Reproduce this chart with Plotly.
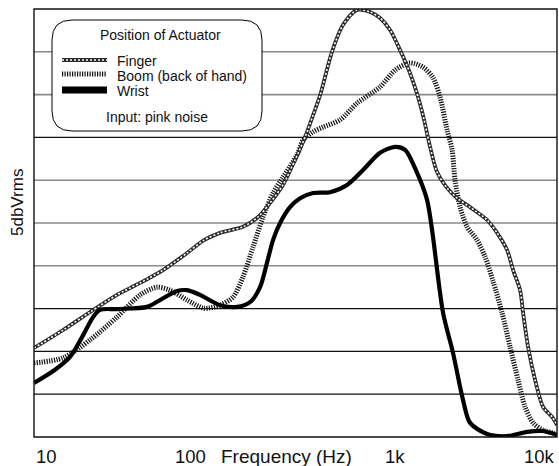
import numpy as np
import plotly.graph_objects as go

# ---------------- data ----------------
freq_finger = [10, 14.7, 21.0, 29.9, 40.6, 55.0, 75.5, 94.5, 116.7, 158, 193, 226, 268, 314, 359, 399,
               438, 512, 593, 713, 847, 966, 1103, 1259, 1436, 1597, 1728, 1870, 2052, 2342, 2672,
               3173, 3972, 4533, 5172, 5600, 6143, 6391, 6827, 7489, 8325, 9374, 10000]
level_finger = [2.08, 2.50, 2.92, 3.32, 3.60, 3.90, 4.30, 4.60, 4.77, 4.91, 5.14, 5.47, 5.89, 6.47,
                7.01, 7.52, 7.99, 9.00, 9.63, 9.98, 9.93, 9.79, 9.51, 9.04, 8.50, 7.94, 7.41, 6.78,
                6.19, 5.82, 5.58, 5.37, 5.07, 4.77, 4.37, 3.90, 3.43, 2.90, 2.10, 1.33, 0.70, 0.47, 0.28]

freq_boom = [10, 14.7, 21.0, 29.9, 40.6, 50.8, 60.3, 75.5, 94.5, 116.7, 138.6, 158, 180.5, 206, 235,
             268, 323, 350, 399, 455, 570, 713, 966, 1178, 1436, 1705, 1946, 2135, 2342, 2502, 2602,
             2781, 3050, 3480, 3867, 4299, 4842, 5382, 5982, 6561, 7294, 8325, 9498, 10000]
level_boom = [1.73, 1.85, 2.27, 2.80, 3.32, 3.50, 3.43, 3.20, 3.01, 3.08, 3.27, 3.74, 4.44, 5.14, 5.70,
              6.07, 6.59, 6.94, 7.13, 7.24, 7.41, 7.80, 8.18, 8.57, 8.74, 8.64, 8.39, 7.94, 7.17, 6.71,
              6.00, 5.37, 4.91, 4.60, 4.21, 3.64, 2.90, 2.10, 1.33, 0.70, 0.33, 0.16, 0.09, 0.05]

freq_wrist = [10, 13.2, 16.1, 18.9, 21.8, 23.9, 29.9, 44.5, 52.8, 66.1, 75.5, 89.6, 116.7, 146, 173.5,
              198, 217, 235, 258, 294, 336, 399, 499, 625, 772, 966, 1178, 1345, 1576, 1797, 1920,
              2221, 2534, 2892, 3173, 3972, 5172, 6739, 8325, 10000]
level_wrist = [1.26, 1.57, 1.87, 2.34, 2.80, 2.97, 2.99, 3.04, 3.20, 3.41, 3.43, 3.32, 3.08, 3.04, 3.15,
               3.50, 4.07, 4.60, 5.00, 5.37, 5.58, 5.70, 5.72, 5.89, 6.24, 6.64, 6.78, 6.71, 6.17, 5.54,
               4.84, 2.90, 1.96, 0.86, 0.33, 0.07, 0.02, 0.12, 0.14, 0.05]

series_names = ["Finger", "Boom (back of hand)", "Wrist"]
tick_vals = [10, 100, 1000, 10000]
tick_labels = ["10", "100", "1k", "10k"]
grid_levels = [1, 2, 3, 4, 5, 6, 7, 8, 9]
dark_levels = [1, 2, 3, 7]
x_title = "Frequency (Hz)"
y_title = "5dbVrms"
legend_title = "Position of Actuator"
legend_note = "Input: pink noise"

# ---------------- layout constants ----------------
W, H = 559, 466
ML, MR, MT, MB = 34, 2, 9, 29
PW, PH = W - ML - MR, H - MT - MB
FONT = "Liberation Sans, Arial, Helvetica, sans-serif"


def px(x):
    return (x - ML) / PW


def py(y):
    return (MT + PH - y) / PH


fig = go.Figure()

# styles
FINGER_BASE = dict(color="#2a2a2a", width=3.8)
FINGER_TOP = dict(color="white", width=1.6, dash="2px,2px")
BOOM_STYLE = dict(color="#111", width=5, dash="1.2px,1.3px")
WRIST_STYLE = dict(color="black", width=4.2)

fig.add_trace(go.Scatter(x=freq_boom, y=level_boom, mode="lines", name=series_names[1],
                         line=dict(shape="spline", smoothing=0.8, **BOOM_STYLE), hoverinfo="skip"))
fig.add_trace(go.Scatter(x=freq_finger, y=level_finger, mode="lines", name=series_names[0],
                         line=dict(shape="spline", smoothing=0.8, **FINGER_BASE), hoverinfo="skip"))
fig.add_trace(go.Scatter(x=freq_finger, y=level_finger, mode="lines", name=series_names[0],
                         line=dict(shape="spline", smoothing=0.8, **FINGER_TOP), hoverinfo="skip"))
fig.add_trace(go.Scatter(x=freq_wrist, y=level_wrist, mode="lines", name=series_names[2],
                         line=dict(shape="spline", smoothing=0.8, **WRIST_STYLE), hoverinfo="skip"))

shapes = []
# horizontal grid lines
for lv in grid_levels:
    dark = lv in dark_levels
    shapes.append(dict(type="line", xref="paper", yref="y", x0=0, x1=1, y0=lv, y1=lv, layer="below",
                       line=dict(color="#111" if dark else "#8a8a8a", width=1.3 if dark else 1.6)))
# vertical grid lines
for tv in tick_vals[1:-1]:
    shapes.append(dict(type="line", xref="x", yref="paper", x0=np.log10(tv), x1=np.log10(tv), y0=0, y1=1,
                       layer="below", line=dict(color="#111", width=1.4)))
# plot border
shapes.append(dict(type="rect", xref="paper", yref="paper", x0=0, x1=1, y0=0, y1=1, layer="above",
                   line=dict(color="#111", width=1.4)))

# legend box (rounded rectangle)
bx0, bx1, byt, byb = px(52), px(262), py(20), py(131)
rx, ry = 20 / PW, 20 / PH
path = (f"M {bx0+rx},{byt} L {bx1-rx},{byt} Q {bx1},{byt} {bx1},{byt-ry} "
        f"L {bx1},{byb+ry} Q {bx1},{byb} {bx1-rx},{byb} L {bx0+rx},{byb} Q {bx0},{byb} {bx0},{byb+ry} "
        f"L {bx0},{byt-ry} Q {bx0},{byt} {bx0+rx},{byt} Z")
shapes.append(dict(type="path", xref="paper", yref="paper", path=path, fillcolor="white",
                   line=dict(color="black", width=1), layer="above"))
# legend swatches
sx0, sx1 = px(62), px(107)
sw_y = [py(60), py(74), py(90)]
shapes.append(dict(type="line", xref="paper", yref="paper", x0=sx0, x1=sx1, y0=sw_y[0], y1=sw_y[0],
                   layer="above", line=dict(color="#2a2a2a", width=4.2)))
shapes.append(dict(type="line", xref="paper", yref="paper", x0=sx0, x1=sx1, y0=sw_y[0], y1=sw_y[0],
                   layer="above", line=dict(color="white", width=1.6, dash="2px,2px")))
shapes.append(dict(type="line", xref="paper", yref="paper", x0=sx0, x1=sx1, y0=sw_y[1], y1=sw_y[1],
                   layer="above", line=dict(color="#111", width=5, dash="1.2px,1.3px")))
shapes.append(dict(type="line", xref="paper", yref="paper", x0=sx0, x1=sx1, y0=sw_y[2], y1=sw_y[2],
                   layer="above", line=dict(color="black", width=7)))

annotations = []
LEG_FONT = dict(family=FONT, size=14, color="#111")
annotations.append(dict(text=legend_title, xref="paper", yref="paper", x=px(160), y=py(35),
                        xanchor="center", yanchor="middle", showarrow=False, font=LEG_FONT))
for name, yy in zip(series_names, [py(61), py(76), py(91)]):
    annotations.append(dict(text=name, xref="paper", yref="paper", x=px(115), y=yy,
                            xanchor="left", yanchor="middle", showarrow=False, font=LEG_FONT))
annotations.append(dict(text=legend_note, xref="paper", yref="paper", x=px(157), y=py(117),
                        xanchor="center", yanchor="middle", showarrow=False, font=LEG_FONT))

AX_FONT = dict(family=FONT, size=18.5, color="#111")
for tv, tl, anc in zip(tick_vals, tick_labels, ["left", "right", "left", "right"]):
    annotations.append(dict(text=tl, xref="x", yref="paper", x=np.log10(tv), y=py(456),
                            xanchor=anc, yanchor="middle", showarrow=False, font=AX_FONT))
annotations.append(dict(text=x_title, xref="paper", yref="paper", x=px(286), y=py(456),
                        xanchor="center", yanchor="middle", showarrow=False,
                        font=dict(family=FONT, size=19, color="#111")))
annotations.append(dict(text=y_title, xref="paper", yref="paper", x=px(17), y=py(203), textangle=-90,
                        xanchor="center", yanchor="middle", showarrow=False,
                        font=dict(family=FONT, size=17, color="#111")))

fig.update_layout(
    width=W, height=H,
    margin=dict(l=ML, r=MR, t=MT, b=MB),
    paper_bgcolor="white", plot_bgcolor="white",
    showlegend=False,
    shapes=shapes, annotations=annotations,
    xaxis=dict(type="log", range=[1, 4], showgrid=False, zeroline=False, showticklabels=False,
               ticks="", showline=False, fixedrange=True),
    yaxis=dict(range=[0, 10], showgrid=False, zeroline=False, showticklabels=False, ticks="",
               showline=False, fixedrange=True),
)

fig.write_html(
    "out.html",
    config={"displayModeBar": False},
    post_script="document.body.style.margin='0';document.body.style.padding='0';"
                "document.documentElement.style.overflow='hidden';",
)
